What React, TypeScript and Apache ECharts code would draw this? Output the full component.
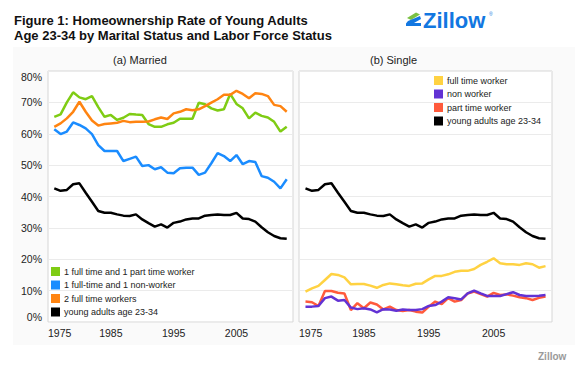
import React, { useEffect, useRef } from "react";
import * as echarts from "echarts";

const years = [
  1976, 1977, 1978, 1979, 1980, 1981, 1982, 1983, 1984, 1985,
  1986, 1987, 1988, 1989, 1990, 1991, 1992, 1993, 1994, 1995,
  1996, 1997, 1998, 1999, 2000, 2001, 2002, 2003, 2004, 2005,
  2006, 2007, 2008, 2009, 2010, 2011, 2012, 2013,
];

// (a) Married
const fullPlusPart = [
  65.4, 66.2, 70.0, 73.2, 71.6, 71.0, 72.0, 68.5, 65.4, 66.0,
  64.4, 65.1, 66.3, 66.1, 66.0, 63.1, 62.2, 62.2, 63.0, 63.5,
  64.8, 64.8, 64.8, 69.9, 69.4, 68.1, 67.4, 67.8, 72.7, 69.5,
  68.1, 64.9, 66.7, 65.7, 65.2, 63.8, 60.7, 62.2,
];
const fullPlusNon = [
  61.4, 59.9, 60.7, 63.6, 62.8, 61.7, 59.9, 56.4, 54.5, 54.5,
  54.5, 51.3, 52.0, 52.7, 49.7, 50.0, 48.7, 49.3, 47.6, 47.4,
  49.0, 49.2, 49.2, 46.9, 47.6, 50.6, 53.8, 52.9, 51.3, 53.2,
  50.3, 51.3, 51.0, 46.5, 46.0, 44.7, 42.6, 45.5,
];
const twoFull = [
  62.2, 63.3, 64.9, 67.0, 70.2, 67.0, 64.2, 62.6, 63.1, 63.3,
  63.5, 64.1, 63.7, 63.8, 63.8, 63.9, 64.6, 65.2, 64.7, 66.5,
  67.0, 67.8, 67.5, 67.8, 68.8, 69.9, 71.0, 72.4, 72.4, 73.7,
  72.7, 71.3, 72.9, 72.7, 72.0, 69.2, 68.8, 67.0,
];
const youngAdults = [
  42.6, 41.8, 42.1, 43.9, 44.2, 41.2, 38.3, 35.4, 34.8, 34.8,
  34.3, 33.9, 33.8, 34.3, 32.7, 31.5, 30.4, 31.1, 30.1, 31.6,
  32.0, 32.7, 33.0, 33.0, 33.9, 34.1, 34.3, 34.1, 34.1, 34.8,
  33.0, 32.8, 32.0, 30.2, 28.6, 27.4, 26.7, 26.5,
];

// (b) Single
const fullTime = [
  9.7, 10.7, 11.5, 13.4, 15.3, 15.0, 14.2, 12.0, 12.1, 12.1,
  11.6, 10.9, 11.8, 12.3, 12.0, 11.7, 11.5, 12.2, 12.3, 13.6,
  14.7, 14.7, 15.2, 16.0, 16.3, 16.3, 16.9, 18.2, 19.2, 20.3,
  18.7, 18.4, 18.4, 18.2, 18.7, 18.4, 17.3, 17.8,
];
const nonWorker = [
  4.9, 4.9, 5.1, 7.6, 8.1, 6.8, 7.0, 4.6, 4.1, 4.4,
  4.0, 3.1, 4.1, 4.0, 3.6, 4.0, 3.8, 3.8, 4.1, 5.1,
  5.4, 6.5, 7.9, 7.6, 7.2, 9.1, 10.0, 9.1, 8.3, 8.3,
  8.3, 8.9, 9.5, 8.6, 8.3, 8.3, 8.4, 8.6,
];
const partTime = [
  6.5, 6.3, 5.1, 9.9, 9.9, 9.3, 9.1, 3.8, 6.0, 4.4,
  6.2, 5.6, 4.0, 4.9, 3.8, 3.5, 3.8, 3.3, 3.0, 4.9,
  6.5, 5.7, 7.6, 6.5, 7.0, 9.1, 9.7, 8.9, 8.1, 9.3,
  8.6, 8.8, 8.4, 7.9, 7.6, 7.0, 7.7, 8.1,
];

const marriedNames = [
  "1 full time and 1 part time worker",
  "1 full-time and 1 non-worker",
  "2 full time workers",
  "young adults age 23-34",
];
const singleNames = [
  "full time worker",
  "non worker",
  "part time worker",
  "young adults age 23-34",
];

const pairs = (vals: number[]) => years.map((y, i) => [y, vals[i]]);

const FONT = "'Liberation Sans', Arial, sans-serif";

export default function App() {
  const ref = useRef<HTMLDivElement>(null);
  useEffect(() => {
    const chart = echarts.init(ref.current!, null, { renderer: "svg" });

    const xAxisBase = (gridIndex: number) => ({
      type: "value",
      gridIndex,
      min: 1975,
      max: 2014,
      interval: 10,
      axisLine: { show: false },
      axisTick: { show: false },
      splitLine: { show: false },
      axisLabel: {
        formatter: (v: number) => String(v),
        fontSize: 10.5,
        color: "#222",
        margin: 5,
        showMaxLabel: false,
        alignMinLabel: "left",
        fontFamily: FONT,
      },
    });
    const yAxisBase = (gridIndex: number, showLabel: boolean) => ({
      type: "value",
      gridIndex,
      min: 0,
      max: 80,
      interval: 10,
      axisLine: { show: false },
      axisTick: { show: false },
      splitLine: { show: true, lineStyle: { color: "#ebebeb", width: 1 } },
      axisLabel: {
        show: showLabel,
        formatter: "{value}%",
        fontSize: 10.5,
        color: "#222",
        margin: 6,
        verticalAlignMinLabel: "bottom",
        verticalAlignMaxLabel: "top",
        fontFamily: FONT,
      },
    });

    const line = (name: string, vals: number[], color: string, idx: number) => ({
      type: "line",
      name,
      xAxisIndex: idx,
      yAxisIndex: idx,
      data: pairs(vals),
      symbol: "none",
      lineStyle: { color, width: 2.5 },
      itemStyle: { color },
      z: 3,
    });

    const legendBase = {
      orient: "vertical",
      padding: 0,
      itemWidth: 9,
      itemHeight: 9,
      itemGap: 4.5,
      icon: "rect",
      selectedMode: false,
      textStyle: { fontSize: 9, color: "#222", fontFamily: FONT, padding: [0, 0, 0, -1] },
    };

    const option = {
      animation: false,
      backgroundColor: "#ffffff",
      textStyle: { fontFamily: FONT },
      grid: [
        { left: 48, top: 71, width: 245, height: 251, show: true, backgroundColor: "#fff", borderColor: "#d6d6d6", borderWidth: 1 },
        { left: 299, top: 71, width: 253, height: 251, show: true, backgroundColor: "#fff", borderColor: "#d6d6d6", borderWidth: 1 },
      ],
      xAxis: [xAxisBase(0), xAxisBase(1)],
      yAxis: [yAxisBase(0, true), yAxisBase(1, false)],
      legend: [
        { ...legendBase, data: marriedNames, left: 51, top: 267 },
        { ...legendBase, data: singleNames, left: 434, top: 76 },
      ],
      series: [
        line(marriedNames[0], fullPlusPart, "#7fcc14", 0),
        line(marriedNames[1], fullPlusNon, "#1a8cff", 0),
        line(marriedNames[2], twoFull, "#ff8411", 0),
        line(marriedNames[3], youngAdults, "#000000", 0),
        line(singleNames[0], fullTime, "#ffd242", 1),
        line(singleNames[2], partTime, "#ff5a3c", 1),
        line(singleNames[1], nonWorker, "#6232d4", 1),
        line(singleNames[3], youngAdults, "#000000", 1),
      ],
      graphic: [
        { type: "rect", z: -10, silent: true, shape: { x: 13, y: 47, width: 562, height: 298 }, style: { fill: "#fafafa" } },
        { type: "text", left: 14, top: 14, style: { text: "Figure 1: Homeownership Rate of Young Adults", font: `bold 13px ${FONT}`, fill: "#111" } },
        { type: "text", left: 14, top: 29, style: { text: "Age 23-34 by Marital Status and Labor Force Status", font: `bold 13px ${FONT}`, fill: "#111" } },
        { type: "text", left: 113, top: 54, style: { text: "(a) Married", font: `11px ${FONT}`, fill: "#222" } },
        { type: "text", left: 370, top: 54, style: { text: "(b) Single", font: `11px ${FONT}`, fill: "#222" } },
        // Zillow logo icon
        { type: "polygon", shape: { points: [[407, 18], [416, 12.5], [420, 14.5], [411, 20]] }, style: { fill: "#7ac143" } },
        { type: "polygon", shape: { points: [[408, 21], [420, 16], [421, 19], [414, 23], [421, 23], [421, 26], [406, 26], [406, 23.5]] }, style: { fill: "#1277e1" } },
        { type: "text", left: 423, top: 9, style: { text: "Zillow", font: `bold 22px ${FONT}`, fill: "#1277e1" } },
        { type: "text", left: 489, top: 11, style: { text: "®", font: `5px ${FONT}`, fill: "#1277e1" } },
        { type: "text", left: 538, top: 351, style: { text: "Zillow", font: `bold 10px ${FONT}`, fill: "#9a9a9a" } },
      ],
    };

    chart.setOption(option as any);
    return () => chart.dispose();
  }, []);
  return (
    <div
      ref={ref}
      style={{ position: "fixed", left: 0, top: 0, width: 580, height: 373 }}
    />
  );
}
